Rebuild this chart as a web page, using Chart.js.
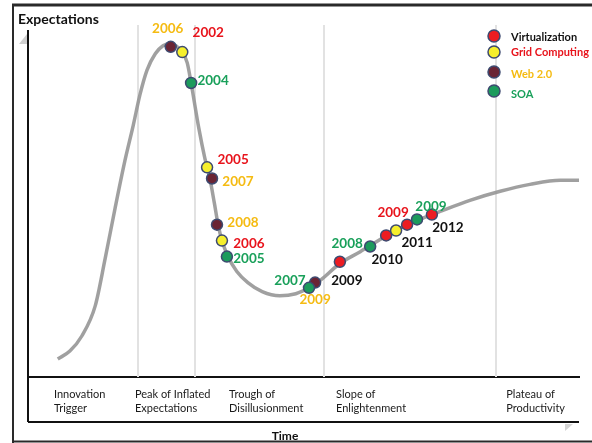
<!DOCTYPE html>
<html>
<head>
<meta charset="utf-8">
<script src="https://cdn.jsdelivr.net/npm/chart.js@4/dist/chart.umd.min.js"></script>
<style>
  html, body { margin: 0; padding: 0; background: #fff; }
  #wrap { position: relative; width: 592px; height: 443px; }
  canvas { display: block; }
</style>
</head>
<body>
<div id="wrap"><canvas id="hype" width="592" height="443"></canvas></div>
<script>
// Hype cycle curve: time (0-100) against expectations (0-100)
const curveTime = [5.4, 7.6, 9.8, 12.2, 14.0, 15.8, 17.6, 19.1, 20.3, 21.6, 23.1, 24.5, 25.8, 26.9, 28.0, 28.9,
  29.6, 31.0, 32.1, 33.0, 33.8, 34.5, 35.2, 36.3, 37.9, 39.9, 42.5, 45.7, 48.6, 51.0, 53.0, 56.6, 60.3, 63.9,
  67.5, 71.1, 74.8, 80.2, 85.7, 91.1, 96.6, 100];
const curveExpect = [5.2, 7.5, 11.9, 20.5, 34.1, 48.6, 62.4, 72.5, 81.2, 88.4, 93.1, 95.4, 96.0, 95.4, 93.6, 90.5,
  84.7, 71.7, 63.0, 57.2, 50.3, 43.9, 39.3, 34.7, 30.4, 27.2, 24.6, 23.4, 24.0, 25.7, 27.8, 32.7, 36.1, 39.6,
  42.8, 45.4, 47.7, 50.9, 53.5, 55.5, 56.7, 56.7];

// Technologies on the curve, one point per year
const virtYears  = ['2009', '2010', '2011', '2012'];
const virtTime   = [56.6, 65.0, 68.8, 73.3];
const virtExpect = [33.2, 40.8, 43.9, 46.8];

const gridYears  = ['2002', '2005', '2006', '2009'];
const gridTime   = [28.0, 32.5, 35.2, 66.8];
const gridExpect = [93.6, 60.4, 39.3, 42.2];

const webYears   = ['2006', '2007', '2008', '2009'];
const webTime    = [25.9, 33.4, 34.3, 52.1];
const webExpect  = [95.1, 57.2, 43.9, 27.2];

const soaYears   = ['2004', '2005', '2007', '2008', '2009'];
const soaTime    = [29.6, 36.1, 51.0, 62.1, 70.6];
const soaExpect  = [84.7, 34.7, 25.7, 37.6, 45.4];

// Phases along the time axis
const phaseStarts = [4.7, 19.4, 36.5, 55.9, 86.8];
const phaseLabels = [
  ['Innovation', 'Trigger'],
  ['Peak of Inflated', 'Expectations'],
  ['Trough of', 'Disillusionment'],
  ['Slope of', 'Enlightenment'],
  ['Plateau of', 'Productivity']
];
const phaseBounds = [20.0, 30.3, 53.7, 84.9];

// ---- styling ----
const FONT = 'Lato, "Open Sans", sans-serif';
const DOT_BORDER = '#3d4a70';
const series = [
  { name: 'Virtualization', years: virtYears, time: virtTime, expect: virtExpect,
    fill: '#ec1c22', text: '#111111',
    offsets: [[7, 19], [1, 24], [10, 18], [16, 13]] },
  { name: 'Grid Computing', years: gridYears, time: gridTime, expect: gridExpect,
    fill: '#f6ef2c', text: '#e8141c',
    offsets: [[26, -19], [26, -8], [27, 3], [-3, -18]] },
  { name: 'Web 2.0', years: webYears, time: webTime, expect: webExpect,
    fill: '#6a2434', text: '#f5bb12',
    offsets: [[-3, -18], [26, 3], [26, -2], [0, 17]] },
  { name: 'SOA', years: soaYears, time: soaTime, expect: soaExpect,
    fill: '#1c9b5c', text: '#19a05a',
    offsets: [[22, -2], [22, 2], [-19, -7], [-23, -3], [14, -13]] }
];
const legendRows = [
  { dotY: 36, textY: 37 },
  { dotY: 52, textY: 52 },
  { dotY: 72, textY: 74 },
  { dotY: 91, textY: 94 }
];

const toXY = (xs, ys) => xs.map((x, i) => ({ x: x, y: ys[i] }));

const datasets = series.map((s, k) => ({
  label: s.name,
  data: toXY(s.time, s.expect),
  backgroundColor: s.fill,
  borderColor: DOT_BORDER,
  borderWidth: 1.5,
  pointRadius: 5.5,
  pointHoverRadius: 5.5,
  showLine: false,
  order: 4 - k
}));
datasets.push({
  label: 'Hype cycle',
  data: toXY(curveTime, curveExpect),
  showLine: true,
  borderColor: 'rgba(150,150,150,0.9)',
  borderWidth: 3.5,
  pointRadius: 0,
  cubicInterpolationMode: 'monotone',
  fill: false,
  order: 10
});

// Frame, axis lines, phase dividers
const framePlugin = {
  id: 'frame',
  beforeDatasetsDraw(chart) {
    const { ctx, scales: { x }, chartArea } = chart;
    ctx.save();
    ctx.strokeStyle = '#e2e2e2';
    ctx.lineWidth = 2;
    phaseBounds.forEach(v => {
      const px = Math.round(x.getPixelForValue(v));
      ctx.beginPath();
      ctx.moveTo(px, chartArea.top);
      ctx.lineTo(px, chartArea.bottom);
      ctx.stroke();
    });
    ctx.restore();
  },
  afterDraw(chart) {
    const { ctx, chartArea } = chart;
    const W = chart.width, H = chart.height;
    ctx.save();
    // outer frame
    ctx.strokeStyle = '#2a2a2a';
    ctx.lineWidth = 3;
    ctx.beginPath(); ctx.moveTo(12, 5); ctx.lineTo(W, 5); ctx.stroke();
    ctx.lineWidth = 2;
    ctx.beginPath(); ctx.moveTo(13, 5); ctx.lineTo(13, H); ctx.stroke();
    ctx.beginPath(); ctx.moveTo(13, H - 1.5); ctx.lineTo(W, H - 1.5); ctx.stroke();
    // expectations axis
    ctx.strokeStyle = '#111';
    ctx.beginPath(); ctx.moveTo(chartArea.left, 30); ctx.lineTo(chartArea.left, 422); ctx.stroke();
    ctx.fillStyle = '#cfcfcf';
    ctx.beginPath(); ctx.moveTo(19, 44); ctx.lineTo(27, 34); ctx.lineTo(27, 44); ctx.closePath(); ctx.fill();
    // bottom line of the phase band
    ctx.strokeStyle = '#111';
    ctx.beginPath(); ctx.moveTo(chartArea.left, 422); ctx.lineTo(chartArea.right, 422); ctx.stroke();
    ctx.fillStyle = '#d4d4d4';
    ctx.beginPath(); ctx.moveTo(565, 424); ctx.lineTo(573, 424); ctx.lineTo(565, 431); ctx.closePath(); ctx.fill();
    // axis names
    ctx.fillStyle = '#111';
    ctx.textBaseline = 'middle';
    ctx.textAlign = 'left';
    ctx.font = 'bold 14px ' + FONT;
    ctx.fillText('Expectations', 18, 19);
    ctx.textAlign = 'center';
    ctx.font = 'bold 12px ' + FONT;
    ctx.fillText('Time', 285, 436);
    ctx.restore();
  }
};

// Year labels next to each point
const yearLabelPlugin = {
  id: 'yearLabels',
  afterDatasetsDraw(chart) {
    const { ctx } = chart;
    ctx.save();
    ctx.font = 'bold 13.5px ' + FONT;
    ctx.textAlign = 'center';
    ctx.textBaseline = 'middle';
    series.forEach((s, k) => {
      const meta = chart.getDatasetMeta(k);
      ctx.fillStyle = s.text;
      meta.data.forEach((pt, i) => {
        const off = s.offsets[i];
        ctx.fillText(s.years[i], pt.x + off[0], pt.y + off[1]);
      });
    });
    ctx.restore();
  }
};

// Legend in the top-right corner
const legendPlugin = {
  id: 'cornerLegend',
  afterDraw(chart) {
    const { ctx } = chart;
    ctx.save();
    ctx.font = 'bold 11px ' + FONT;
    ctx.textAlign = 'left';
    ctx.textBaseline = 'middle';
    series.forEach((s, k) => {
      const row = legendRows[k];
      ctx.beginPath();
      ctx.arc(494, row.dotY, 6, 0, Math.PI * 2);
      ctx.fillStyle = s.fill;
      ctx.fill();
      ctx.lineWidth = 1.5;
      ctx.strokeStyle = DOT_BORDER;
      ctx.stroke();
      ctx.fillStyle = s.text;
      ctx.fillText(s.name, 511, row.textY);
    });
    ctx.restore();
  }
};

new Chart(document.getElementById('hype'), {
  type: 'scatter',
  data: { datasets: datasets },
  options: {
    responsive: false,
    animation: false,
    layout: { padding: { left: 28, right: 13, top: 25, bottom: 18 } },
    plugins: { legend: { display: false }, tooltip: { enabled: false } },
    scales: {
      x: {
        type: 'linear',
        min: 0,
        max: 100,
        grid: { display: false, drawTicks: false },
        border: { display: true, color: '#111', width: 2 },
        afterBuildTicks: (scale) => { scale.ticks = phaseStarts.map(v => ({ value: v })); },
        ticks: {
          autoSkip: false,
          maxRotation: 0,
          minRotation: 0,
          align: 'start',
          padding: 10,
          color: '#1a1a1a',
          font: { family: FONT, size: 11, lineHeight: 1.27 },
          callback: (value, index) => phaseLabels[index]
        }
      },
      y: {
        display: false,
        min: 0,
        max: 101.4
      }
    }
  },
  plugins: [framePlugin, yearLabelPlugin, legendPlugin]
});
</script>
</body>
</html>
